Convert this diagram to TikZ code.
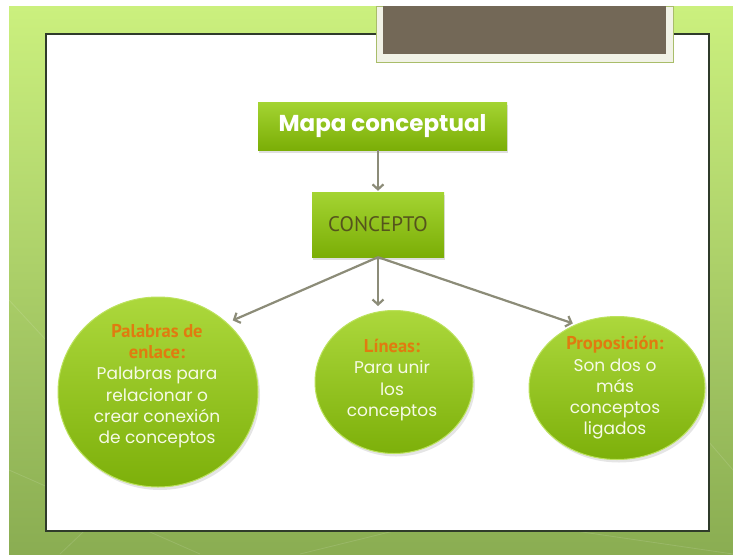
\documentclass[tikz,border=0pt]{standalone}
\usepackage{fontspec}
\setmainfont{Poppins}
\newfontfamily\headfont{PT Sans}
\usetikzlibrary{arrows.meta,shapes.geometric,shadows}
\definecolor{bgtop}{HTML}{CBF07E}
\definecolor{bgbot}{HTML}{8AAD52}
\definecolor{frameline}{HTML}{2F3B2A}
\definecolor{greytop}{HTML}{736857}
\definecolor{greyframe}{HTML}{F1F2E6}
\definecolor{greyedge}{HTML}{A9BD6A}
\definecolor{boxtop}{HTML}{A4D432}
\definecolor{boxbot}{HTML}{7BAE06}
\definecolor{elltop}{HTML}{ACD83C}
\definecolor{ellbot}{HTML}{7DB00A}
\definecolor{ellrim}{HTML}{BCE25E}
\definecolor{arrowc}{HTML}{8C8C78}
\definecolor{headc}{HTML}{E07B10}
\definecolor{olive}{HTML}{55541C}
\definecolor{bodyc}{HTML}{F6FAE6}
\newcommand\hdline[1]{{\headfont\bfseries\fontsize{18.5}{20}\selectfont\color{headc}#1}}
\tikzset{
  greenbox/.style={rectangle, top color=boxtop, bottom color=boxbot, draw=none,
    drop shadow={opacity=0.25, shadow xshift=1pt, shadow yshift=-3pt}},
  greenell/.style={ellipse, top color=elltop, bottom color=ellbot, draw=ellrim, line width=1pt,
    drop shadow={opacity=0.2, shadow xshift=2pt, shadow yshift=-3pt}},
  conn/.style={draw=arrowc, line width=2.2pt, -{Straight Barb[length=5pt,width=11pt]}},
  bodytxt/.style={align=center, text=bodyc, inner sep=0pt, font=\fontsize{17}{21.3}\selectfont}
}
\begin{document}
\begin{tikzpicture}[x=1pt,y=-1pt]
\useasboundingbox (0,0) rectangle (733,554);
% background
\fill[white] (0,0) rectangle (733,554);
\shade[top color=bgtop, bottom color=bgbot] (9,6) rectangle (733,554);
\foreach \xa/\ya/\xb/\yb in {9/470/200/554, 60/554/180/440, 300/554/520/500, 500/520/733/554, 690/420/733/470, 9/300/46/340}
  \draw[white, opacity=0.12, line width=0.8pt] (\xa,\ya) -- (\xb,\yb);
% white panel
\draw[fill=white, draw=frameline, line width=1.5pt] (46,34) rectangle (709,531);
% grey title box at top
\draw[fill=greyframe, draw=greyedge, line width=0.8pt] (376,6) rectangle (673,62);
\fill[greytop] (383,6) rectangle (666,54);
% nodes
\node[greenbox, minimum width=249pt, minimum height=48pt, text=white,
      font=\bfseries\fontsize{23}{26}\selectfont] (title) at (382.5,126) {Mapa conceptual};
\node[greenbox, minimum width=132pt, minimum height=65pt, text=olive,
      font=\headfont\fontsize{21}{23}\selectfont] (conc) at (378,224.5) {CONCEPTO};
\node[greenell, minimum width=200pt, minimum height=190pt, inner sep=0pt] (left) at (158,392) {};
\node[greenell, minimum width=158pt, minimum height=143pt, inner sep=0pt] (mid) at (394,382) {};
\node[greenell, minimum width=176pt, minimum height=143pt, inner sep=0pt] (right) at (617,388) {};
\node[bodytxt] (lefttxt) at (157,386) {\hdline{Palabras de}\\\hdline{enlace:}\\Palabras para\\relacionar o\\crear conexión\\de conceptos};
\node[bodytxt] (midtxt) at (392,380) {\hdline{Líneas:}\\Para unir\\los\\conceptos};
\node[bodytxt] (righttxt) at (615,388) {\hdline{Proposición:}\\Son dos o\\más\\conceptos\\ligados};
% connectors
\draw[conn, shorten >=1pt] (conc.north |- title.south) -- (conc.north);
\draw[conn, shorten >=6pt] (conc.south) -- (left.45);
\draw[conn, shorten >=4pt] (conc.south) -- (conc.south |- mid.north);
\draw[conn, shorten >=3pt] (conc.south) -- (right.123);
\end{tikzpicture}
\end{document}
